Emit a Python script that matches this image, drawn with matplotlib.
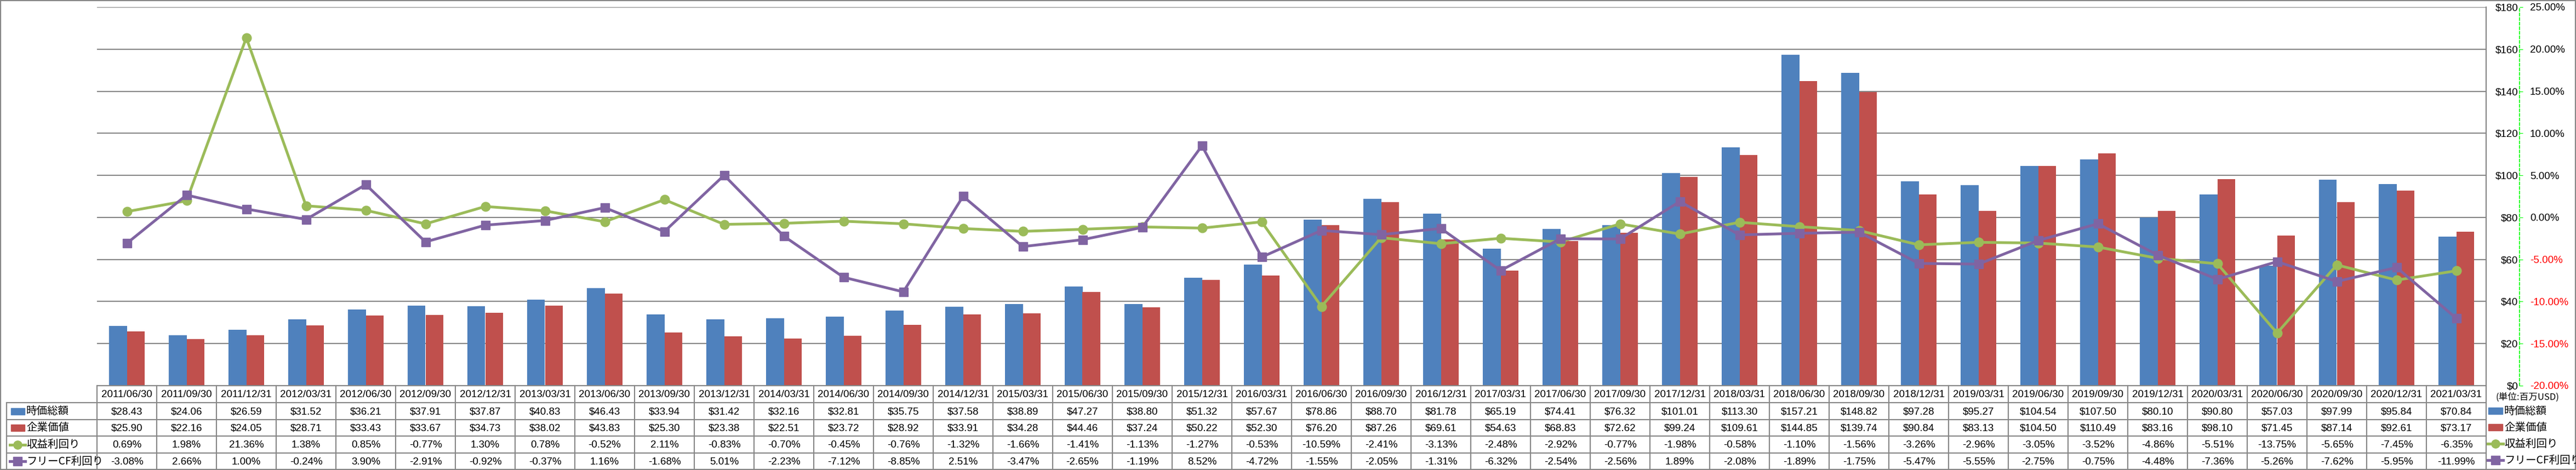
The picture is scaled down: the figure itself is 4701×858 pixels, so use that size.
import matplotlib
matplotlib.use('Agg')
import matplotlib.pyplot as plt
import matplotlib.transforms as mtransforms
from matplotlib.patches import Rectangle
from matplotlib.lines import Line2D
import numpy as np

dates = ['2011/06/30', '2011/09/30', '2011/12/31', '2012/03/31', '2012/06/30', '2012/09/30',
         '2012/12/31', '2013/03/31', '2013/06/30', '2013/09/30', '2013/12/31', '2014/03/31',
         '2014/06/30', '2014/09/30', '2014/12/31', '2015/03/31', '2015/06/30', '2015/09/30',
         '2015/12/31', '2016/03/31', '2016/06/30', '2016/09/30', '2016/12/31', '2017/03/31',
         '2017/06/30', '2017/09/30', '2017/12/31', '2018/03/31', '2018/06/30', '2018/09/30',
         '2018/12/31', '2019/03/31', '2019/06/30', '2019/09/30', '2019/12/31', '2020/03/31',
         '2020/06/30', '2020/09/30', '2020/12/31', '2021/03/31']
market_cap = [28.43, 24.06, 26.59, 31.52, 36.21, 37.91, 37.87, 40.83, 46.43, 33.94,
              31.42, 32.16, 32.81, 35.75, 37.58, 38.89, 47.27, 38.80, 51.32, 57.67,
              78.86, 88.70, 81.78, 65.19, 74.41, 76.32, 101.01, 113.30, 157.21, 148.82,
              97.28, 95.27, 104.54, 107.50, 80.10, 90.80, 57.03, 97.99, 95.84, 70.84]
ent_value = [25.90, 22.16, 24.05, 28.71, 33.43, 33.67, 34.73, 38.02, 43.83, 25.30,
             23.38, 22.51, 23.72, 28.92, 33.91, 34.28, 44.46, 37.24, 50.22, 52.30,
             76.20, 87.26, 69.61, 54.63, 68.83, 72.62, 99.24, 109.61, 144.85, 139.74,
             90.84, 83.13, 104.50, 110.49, 83.16, 98.10, 71.45, 87.14, 92.61, 73.17]
earn_yield = [0.69, 1.98, 21.36, 1.38, 0.85, -0.77, 1.30, 0.78, -0.52, 2.11,
              -0.83, -0.70, -0.45, -0.76, -1.32, -1.66, -1.41, -1.13, -1.27, -0.53,
              -10.59, -2.41, -3.13, -2.48, -2.92, -0.77, -1.98, -0.58, -1.10, -1.56,
              -3.26, -2.96, -3.05, -3.52, -4.86, -5.51, -13.75, -5.65, -7.45, -6.35]
fcf_yield = [-3.08, 2.66, 1.00, -0.24, 3.90, -2.91, -0.92, -0.37, 1.16, -1.68,
             5.01, -2.23, -7.12, -8.85, 2.51, -3.47, -2.65, -1.19, 8.52, -4.72,
             -1.55, -2.05, -1.31, -6.32, -2.54, -2.56, 1.89, -2.08, -1.89, -1.75,
             -5.47, -5.55, -2.75, -0.75, -4.48, -7.36, -5.26, -7.62, -5.95, -11.99]
series_names = ['時価総額', '企業価値', '収益利回り', 'フリーCF利回り']

BLUE = '#4F81BD'
RED = '#C0504D'
GREEN = '#9BBB59'
PURPLE = '#8064A2'
GRID = '#868686'
FONT = ['Liberation Sans', 'Noto Sans CJK JP', 'DejaVu Sans']
JFONT = ['Noto Sans CJK JP', 'DejaVu Sans']
plt.rcParams['font.family'] = FONT

W, H = 4701, 858
fig = plt.figure(figsize=(W / 100, H / 100), dpi=100)

# pixel layout of the plot area
left, right, top, base = 177, 4537, 13, 704
ax = fig.add_axes([left / W, 1 - base / H, (right - left) / W, (base - top) / H])

x = np.arange(len(dates))
w = 0.294
ax.bar(x - w / 2, market_cap, w, color=BLUE, zorder=2)
ax.bar(x + w / 2, ent_value, w, color=RED, zorder=2)
ax.set_xlim(-0.5, len(dates) - 0.5)
ax.set_ylim(0, 180)
ax.set_xticks([])
ax.set_yticks(range(0, 181, 20))
ax.set_yticklabels(['$%d' % v for v in range(0, 181, 20)])
ax.yaxis.grid(True, color=GRID, lw=1.5)
ax.set_axisbelow(True)
for s in ['top', 'bottom']:
    ax.spines[s].set_visible(False)
ax.spines['right'].set_color(GRID)
ax.spines['right'].set_linewidth(1.5)
ax.spines['left'].set_position(('axes', (4598 - left) / (right - left)))
ax.spines['left'].set_color('#00FF00')
ax.spines['left'].set_linestyle((0, (3, 2)))
ax.spines['left'].set_linewidth(1.2)
ax.tick_params(axis='y', direction='in', length=4, color='#00FF00', pad=2, labelsize=13.5)

ax2 = ax.twinx()
ax2.plot(x, earn_yield, color=GREEN, lw=3.6, marker='o', ms=12, zorder=3)
ax2.plot(x, fcf_yield, color=PURPLE, lw=3.6, marker='s', ms=12, zorder=4)
ax2.set_ylim(-20, 25)
pct_ticks = list(range(-20, 26, 5))
ax2.set_yticks(pct_ticks)
ax2.set_yticklabels(['%.2f%%' % v for v in pct_ticks])
for lab, v in zip(ax2.get_yticklabels(), pct_ticks):
    if v < 0:
        lab.set_color('#FF0000')
for s in ax2.spines.values():
    s.set_visible(False)
ax2.tick_params(axis='y', length=0, pad=57.6, labelsize=13.5)

# overlay in pixel coords for the data table and legend
tb = fig.add_axes([0, 0, 1, 1])
tb.set_xlim(0, W)
tb.set_ylim(H, 0)
tb.axis('off')
bt = mtransforms.blended_transform_factory(ax.transData, tb.transData)

rows_y = [704, 735, 766, 796, 827, 857]
tb.plot([left, right], [704, 704], color=GRID, lw=1.5)
for yy in rows_y[1:]:
    tb.plot([12, right], [yy, yy], color=GRID, lw=1.5)
for i in range(len(dates) + 1):
    tb.plot([i - 0.5, i - 0.5], [704, 857], color=GRID, lw=1.5, transform=bt)
tb.plot([12, 12], [735, 857], color=GRID, lw=1.5)
tb.plot([right, right], [top, 857], color=GRID, lw=1.5)

rows = [['$%.2f' % v for v in market_cap],
        ['$%.2f' % v for v in ent_value],
        ['%.2f%%' % v for v in earn_yield],
        ['%.2f%%' % v for v in fcf_yield]]
for i, d in enumerate(dates):
    tb.text(i, (rows_y[0] + rows_y[1]) / 2 + 1, d, transform=bt, ha='center', va='center', fontsize=13.5)
    for r in range(4):
        yc = (rows_y[r + 1] + rows_y[r + 2]) / 2 + 1
        tb.text(i, yc, rows[r][i], transform=bt, ha='center', va='center', fontsize=13.5)


def draw_key(kind, x0, x1, yc):
    if kind == 'bar':
        return
    if kind == 'o':
        tb.add_line(Line2D([x0, x1], [yc, yc], color=GREEN, lw=3.6, marker=None))
        tb.add_line(Line2D([(x0 + x1) / 2], [yc], color=GREEN, marker='o', ms=11, lw=0))
    else:
        tb.add_line(Line2D([x0, x1], [yc, yc], color=PURPLE, lw=3.6, marker=None))
        tb.add_line(Line2D([(x0 + x1) / 2], [yc], color=PURPLE, marker='s', ms=11, lw=0))


key_kinds = [BLUE, RED, 'o', 's']
# row labels of the table
for r, name in enumerate(series_names):
    yc = (rows_y[r + 1] + rows_y[r + 2]) / 2
    k = key_kinds[r]
    if k in (BLUE, RED):
        tb.add_patch(Rectangle((20, yc - 6), 25, 12, color=k))
    else:
        draw_key(k, 18, 46, yc)
    tb.text(48, yc, name, ha='left', va='center', fontsize=14, family=JFONT)

# legend on the right
tb.text(4612, 725, '(単位:百万USD)', ha='center', va='center', fontsize=12, family=JFONT)
for r, name in enumerate(series_names):
    yc = 750 + r * 30
    k = key_kinds[r]
    if k in (BLUE, RED):
        tb.add_patch(Rectangle((4541, yc - 6), 26, 12, color=k))
    else:
        draw_key(k, 4540, 4568, yc)
    tb.text(4570, yc, name, ha='left', va='center', fontsize=14, family=JFONT)

# chart outline
tb.add_patch(Rectangle((1, 1), W - 2, H - 2, fill=False, edgecolor=GRID, lw=1.5))

fig.savefig('out.png', dpi=100)
